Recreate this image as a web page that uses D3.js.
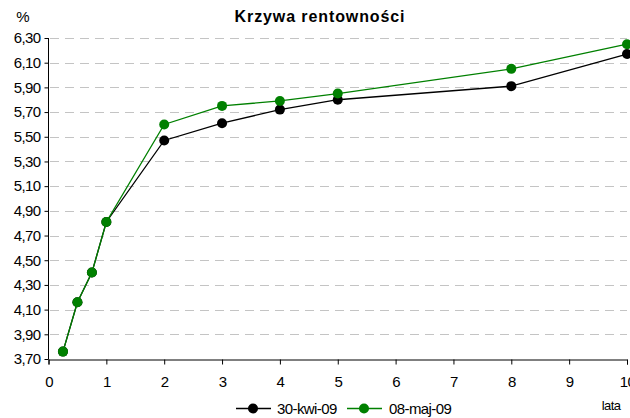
<!DOCTYPE html>
<html><head><meta charset="utf-8">
<script src="https://cdn.jsdelivr.net/npm/d3@7"></script>
<style>body{margin:0;background:#fff}svg{display:block}</style>
</head><body>
<svg id="c" width="630" height="418"></svg>
<script>
const maturities = [0.25, 0.5, 0.75, 1, 2, 3, 4, 5, 8, 10];
const seriesNames = ["30-kwi-09", "08-maj-09"];
const seriesApr = [3.76, 4.16, 4.40, 4.81, 5.47, 5.61, 5.72, 5.80, 5.91, 6.17];
const seriesMay = [3.76, 4.16, 4.40, 4.81, 5.60, 5.75, 5.79, 5.85, 6.05, 6.25];
const yTicks = [3.70, 3.90, 4.10, 4.30, 4.50, 4.70, 4.90, 5.10, 5.30, 5.50, 5.70, 5.90, 6.10, 6.30];
const xTicks = [0, 1, 2, 3, 4, 5, 6, 7, 8, 9, 10];
const colors = ["#000000", "#008000"];
const title = "Krzywa rentowności";

const svg = d3.select("#c");
const font = "'Liberation Sans Narrow', 'Liberation Sans', Arial, sans-serif";
const x = d3.scaleLinear().domain([0, 10]).range([48.5, 627]);
const y = d3.scaleLinear().domain([3.70, 6.30]).range([359, 38]);

// grid
svg.append("g").selectAll("line").data(yTicks.slice(1)).join("line")
  .attr("x1", 50).attr("x2", 627)
  .attr("y1", d => Math.round(y(d)) + 0.5).attr("y2", d => Math.round(y(d)) + 0.5)
  .attr("stroke", "#c4c4c4").attr("stroke-width", 1).attr("stroke-dasharray", "9,6");

// y axis
const ya = svg.append("g").attr("transform", "translate(48.5,0)")
  .call(d3.axisLeft(y).tickValues(yTicks).tickSize(4).tickPadding(4)
    .tickFormat(d => d3.format(".2f")(d).replace(".", ",")));
// x axis
const xa = svg.append("g").attr("transform", "translate(0,359.5)")
  .call(d3.axisBottom(x).tickValues(xTicks).tickSize(5).tickPadding(12));
[ya, xa].forEach(a => {
  a.select(".domain").attr("stroke", "#000");
  a.selectAll(".tick line").attr("stroke", "#000");
  a.selectAll("text").attr("font-family", font).attr("font-size", 15)
    .attr("letter-spacing", -0.6).attr("fill", "#000");
});
ya.select(".domain").attr("d", "M0,38V359.5");

// lines
const all = [seriesApr, seriesMay];
const line = d3.line().x((d, i) => x(maturities[i])).y(d => y(d));
all.forEach((s, k) => {
  const g = svg.append("g");
  g.append("path").datum(s).attr("d", line).attr("fill", "none")
    .attr("stroke", colors[k]).attr("stroke-width", 1.3);
  g.selectAll("circle").data(s).join("circle")
    .attr("cx", (d, i) => x(maturities[i])).attr("cy", d => y(d)).attr("r", 5)
    .attr("fill", colors[k]);
});

// title & labels
svg.append("text").attr("x", 320).attr("y", 22).attr("text-anchor", "middle")
  .attr("font-family", "'Liberation Sans', Arial, sans-serif").attr("font-weight", "bold")
  .attr("font-size", 16).attr("letter-spacing", 0.9).text(title);
svg.append("text").attr("x", 23).attr("y", 22).attr("text-anchor", "middle")
  .attr("font-family", font).attr("font-size", 15).text("%");
svg.append("text").attr("x", 611).attr("y", 410).attr("text-anchor", "middle")
  .attr("font-family", font).attr("font-size", 13).attr("letter-spacing", -0.6).text("lata");

// legend
const leg = [{x0: 236, tx: 277}, {x0: 347, tx: 389}];
seriesNames.forEach((n, k) => {
  const g = svg.append("g");
  g.append("line").attr("x1", leg[k].x0).attr("x2", leg[k].x0 + 35).attr("y1", 408.5).attr("y2", 408.5)
    .attr("stroke", colors[k]).attr("stroke-width", 1.3);
  g.append("circle").attr("cx", leg[k].x0 + 17).attr("cy", 408.5).attr("r", 5).attr("fill", colors[k]);
  g.append("text").attr("x", leg[k].tx).attr("y", 414).attr("font-family", font)
    .attr("font-size", 15).attr("letter-spacing", -0.6).text(n);
});
</script>
</body></html>
